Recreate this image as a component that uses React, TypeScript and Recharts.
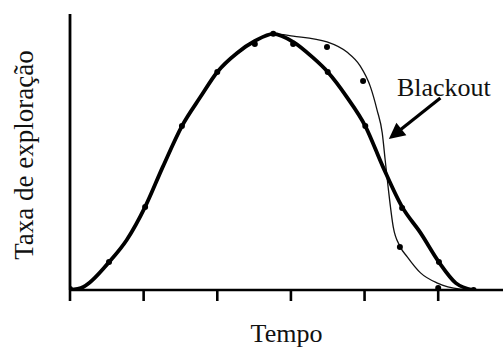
import React from "react";
import {
  ComposedChart,
  Line,
  Scatter,
  XAxis,
  YAxis,
  ReferenceLine,
  ReferenceDot,
} from "recharts";

// Time axis tick positions (unlabelled)
const timeTicks = [0, 1, 2, 3, 4, 5];

// Fitted curve without blackout (thick)
const normalX = [0, 0.18, 0.53, 0.77, 1.02, 1.26, 1.52, 1.77, 2.0, 2.27, 2.51, 2.76, 3.03, 3.29, 3.5, 3.76, 4.01, 4.25, 4.51, 4.76, 5.01, 5.24, 5.47];
const normalY = [0, 1.1, 10.1, 18.1, 30.1, 44.6, 59.4, 69.9, 79.0, 85.9, 90.2, 92.8, 89.9, 84.4, 79.0, 69.9, 59.4, 44.6, 30.1, 20.7, 10.1, 2.5, 0];

// Fitted curve with blackout (thin)
const blackoutX = [0, 0.18, 0.53, 0.77, 1.02, 1.26, 1.52, 1.77, 2.0, 2.27, 2.51, 2.76, 3.03, 3.49, 3.76, 3.94, 4.08, 4.17, 4.24, 4.28, 4.32, 4.39, 4.48, 4.58, 4.76, 4.99, 5.3, 5.47];
const blackoutY = [0, 1.1, 10.1, 18.1, 30.1, 44.6, 59.4, 69.9, 79.0, 85.9, 90.2, 92.8, 92.0, 89.9, 86.2, 81.2, 73.6, 65.2, 56.9, 47.1, 37.3, 22.8, 15.9, 12.0, 6.2, 2.5, 0.3, 0];

// Observed points
const normalDotX = [0, 0.53, 1.02, 1.52, 2.0, 2.51, 2.76, 3.03, 3.5, 4.01, 4.51, 5.01, 5.48];
const normalDotY = [0.4, 10.1, 30.1, 59.4, 79.0, 89.1, 92.8, 89.1, 79.0, 59.4, 29.7, 10.1, 0];
const blackoutDotX = [3.49, 3.98, 4.48, 5.0];
const blackoutDotY = [88.0, 75.7, 15.6, 0.7];

// Annotation
const annotationText = "Blackout";
const annotationPos = { x: 4.44, y: 70.3 };
const arrowTail = { x: 5.03, y: 69.6 };
const arrowTip = { x: 4.33, y: 54.7 };

const xLabel = "Tempo";
const yLabel = "Taxa de exploração";

const zip = (xs: number[], ys: number[]) => xs.map((x, i) => ({ x, y: ys[i] }));
const normalCurve = zip(normalX, normalY);
const blackoutCurve = zip(blackoutX, blackoutY);
const normalDots = zip(normalDotX, normalDotY);
const blackoutDots = zip(blackoutDotX, blackoutDotY);

const FONT = '"Liberation Serif", "Times New Roman", "DejaVu Serif", serif';

const Dot = (p: any) => <circle cx={p.cx} cy={p.cy} r={3} fill="#000" />;

const Arrow = (p: any) => {
  const { x1, y1, x2, y2 } = p;
  if ([x1, y1, x2, y2].some((v) => typeof v !== "number" || isNaN(v))) return <g />;
  const dx = x2 - x1;
  const dy = y2 - y1;
  const len = Math.sqrt(dx * dx + dy * dy) || 1;
  const ux = dx / len;
  const uy = dy / len;
  const headLen = 16;
  const halfW = 8;
  const bx = x2 - ux * headLen;
  const by = y2 - uy * headLen;
  const px = -uy;
  const py = ux;
  return (
    <g>
      <line x1={x1} y1={y1} x2={bx + ux * 2} y2={by + uy * 2} stroke="#000" strokeWidth={3.2} />
      <polygon
        points={`${x2},${y2} ${bx + px * halfW},${by + py * halfW} ${bx - px * halfW},${by - py * halfW}`}
        fill="#000"
      />
    </g>
  );
};

const AnnotationText = (p: any) => (
  <text x={p.cx} y={p.cy} style={{ fontFamily: FONT, fontSize: 26 }} fill="#111">
    {annotationText}
  </text>
);

const XLabel = (p: any) => {
  const vb = p.viewBox || {};
  return (
    <text
      x={vb.x + vb.width / 2}
      y={vb.y + 52}
      textAnchor="middle"
      style={{ fontFamily: FONT, fontSize: 26 }}
      fill="#111"
    >
      {xLabel}
    </text>
  );
};

const YLabel = (p: any) => {
  const vb = p.viewBox || {};
  const cx = vb.x + 33;
  const cy = vb.y + vb.height / 2 + 3;
  return (
    <text
      x={cx}
      y={cy}
      textAnchor="middle"
      transform={`rotate(-90 ${cx} ${cy})`}
      style={{ fontFamily: FONT, fontSize: 27 }}
      fill="#111"
    >
      {yLabel}
    </text>
  );
};

export default function App() {
  return (
    <div style={{ position: "absolute", left: 0, top: 0, background: "#fff", fontFamily: FONT }}>
      <ComposedChart width={503} height={347} margin={{ top: 14, right: 0, bottom: 27, left: 0 }}>
        <XAxis
          type="number"
          dataKey="x"
          domain={[0, 5.88]}
          ticks={timeTicks}
          allowDataOverflow
          tickFormatter={() => ""}
          tickSize={11}
          height={30}
          axisLine={{ stroke: "#000", strokeWidth: 2.6 }}
          tickLine={{ stroke: "#000", strokeWidth: 2.6 }}
          label={{ content: XLabel }}
        />
        <YAxis
          type="number"
          dataKey="y"
          domain={[0, 100]}
          allowDataOverflow
          width={70}
          tick={false}
          tickLine={false}
          axisLine={{ stroke: "#000", strokeWidth: 2.8 }}
          label={{ content: YLabel }}
        />
        <Line
          data={blackoutCurve}
          dataKey="y"
          type="monotone"
          stroke="#111"
          strokeWidth={1.3}
          dot={false}
          isAnimationActive={false}
        />
        <Line
          data={normalCurve}
          dataKey="y"
          type="monotone"
          stroke="#000"
          strokeWidth={3.8}
          dot={false}
          isAnimationActive={false}
        />
        <Scatter data={normalDots} dataKey="y" shape={Dot} isAnimationActive={false} />
        <Scatter data={blackoutDots} dataKey="y" shape={Dot} isAnimationActive={false} />
        <ReferenceLine segment={[arrowTail, arrowTip]} shape={Arrow} />
        <ReferenceDot x={annotationPos.x} y={annotationPos.y} r={0} shape={AnnotationText} />
      </ComposedChart>
    </div>
  );
}
